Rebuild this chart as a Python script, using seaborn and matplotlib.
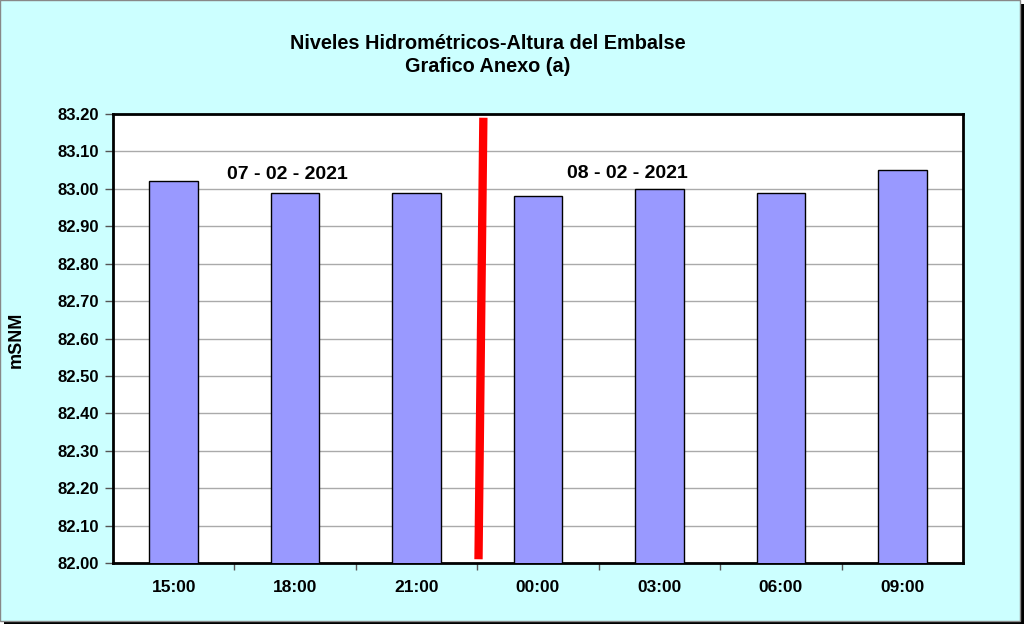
import matplotlib
matplotlib.use("Agg")
import matplotlib.pyplot as plt
from matplotlib.patches import Rectangle
import seaborn as sns
import pandas as pd

# Data
horas = ['15:00', '18:00', '21:00', '00:00', '03:00', '06:00', '09:00']
niveles = [83.02, 82.99, 82.99, 82.98, 83.00, 82.99, 83.05]
yticks = [82.00 + 0.10 * i for i in range(13)]
fechas = ['07 - 02 - 2021', '08 - 02 - 2021']
fecha_x = [0.94, 3.74]
fecha_y = [83.037, 83.042]
# separador de días (entre 21:00 y 00:00)
sep_x = [2.55, 2.51]
sep_y = [83.19, 82.01]

df = pd.DataFrame({'hora': horas, 'nivel': niveles})

sns.set_theme(style='white')
plt.rcParams['font.family'] = ['Liberation Sans', 'DejaVu Sans']
plt.rcParams['font.weight'] = 'bold'
plt.rcParams['text.color'] = 'black'
plt.rcParams['xtick.color'] = 'black'
plt.rcParams['ytick.color'] = 'black'

W, H = 1024, 624
fig = plt.figure(figsize=(10.24, 6.24), dpi=100)
fig.patch.set_facecolor('white')

# marco con sombra
fig.patches.append(Rectangle((4 / W, 0), 1 - 4 / W, 1 - 4 / H, transform=fig.transFigure,
                             facecolor='black', edgecolor='none', zorder=-2))
fig.patches.append(Rectangle((0, 3 / H), 1020 / W, 621 / H, transform=fig.transFigure,
                             facecolor='#CCFFFF', edgecolor='#888888', linewidth=1, zorder=-1))

ax = fig.add_axes([113 / W, 1 - 563 / H, (963 - 113) / W, (563 - 114) / H])
ax.set_facecolor('white')

sns.barplot(data=df, x='hora', y='nivel', color='#9999FF', edgecolor='black',
            linewidth=1, width=0.4, saturation=1, ax=ax, zorder=3)

ax.set_ylim(82.0, 83.2)
ax.set_yticks(yticks)
ax.set_yticklabels([f'{v:.2f}' for v in yticks])
ax.set_xlim(-0.5, len(horas) - 0.5)
ax.yaxis.grid(True, color='#AAAAAA', linewidth=1, zorder=0)
ax.set_axisbelow(True)

# ticks en los límites de categoría
ax.set_xticks([i + 0.5 for i in range(len(horas) - 1)], minor=True)
ax.tick_params(axis='x', which='minor', bottom=True, length=5, width=1, color='#555555')
ax.tick_params(axis='x', which='major', bottom=False, labelsize=12.5, pad=6)
ax.tick_params(axis='y', left=True, length=6, width=1, color='#555555', labelsize=12, pad=4)
for lab in ax.get_xticklabels() + ax.get_yticklabels():
    lab.set_fontweight('bold')

for s in ax.spines.values():
    s.set_color('black')
    s.set_linewidth(2)

ax.set_xlabel('')
ax.set_ylabel('')
fig.text(16 / W, 1 - 340 / H, 'mSNM', rotation=90, ha='center', va='center',
         fontsize=13, fontweight='bold')

ax.plot(sep_x, sep_y, color='#FF0000', linewidth=6, solid_capstyle='butt', zorder=5)

for t, x, y in zip(fechas, fecha_x, fecha_y):
    ax.text(x, y, t, ha='center', va='center', fontsize=14, fontweight='bold', zorder=6)

fig.text(488 / W, 1 - 55 / H, 'Niveles Hidrométricos-Altura del Embalse\nGrafico Anexo (a)',
         ha='center', va='center', fontsize=14.3, fontweight='bold', linespacing=1.25)

fig.savefig('out.png', dpi=100, facecolor=fig.get_facecolor())
